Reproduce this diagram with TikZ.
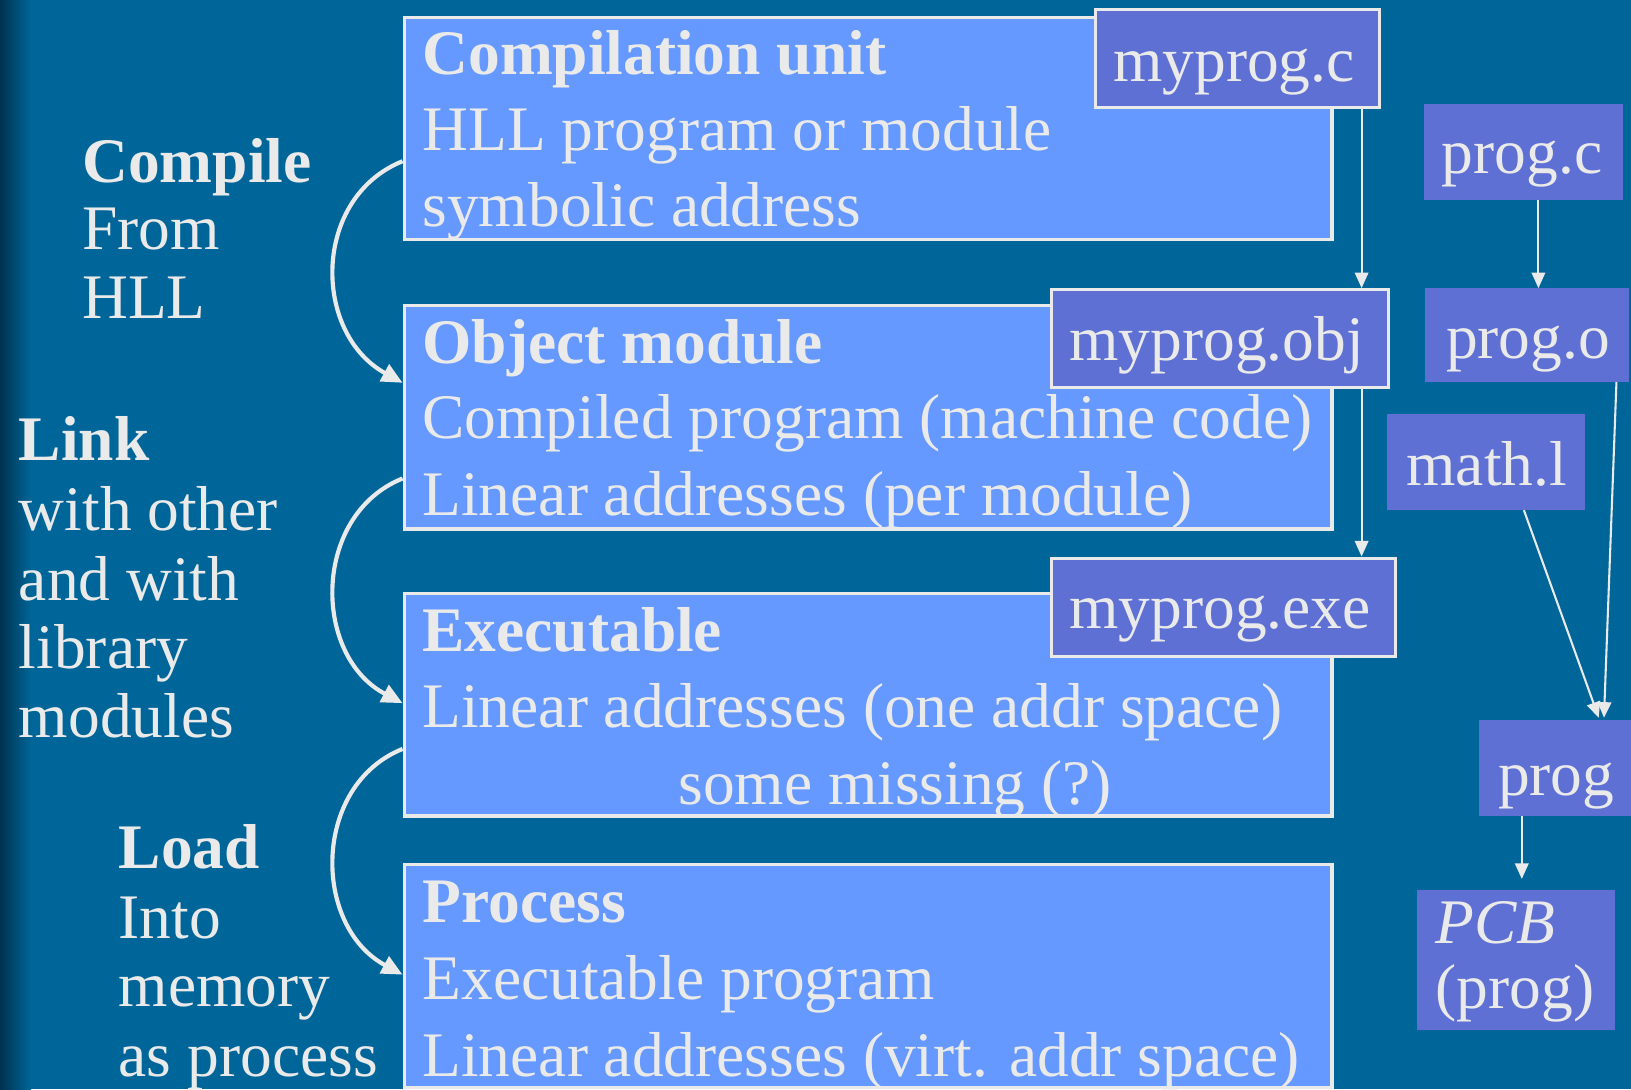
\documentclass[tikz,border=0pt]{standalone}
\usepackage{fontspec}
\setmainfont{Liberation Serif}
\usetikzlibrary{arrows.meta}
\definecolor{bg}{RGB}{0,102,153}
\definecolor{bgdark}{RGB}{0,50,80}
\definecolor{boxfill}{RGB}{102,153,255}
\definecolor{tagfill}{RGB}{95,112,212}
\definecolor{ink}{RGB}{234,234,234}

\begin{document}
\begin{tikzpicture}[x=1pt,y=-1pt,
  txt/.style={anchor=base west, inner sep=0pt, text=ink, font=\fontsize{61}{73}\selectfont},
  hd/.style={anchor=base west, inner sep=0pt, text=ink, font=\fontsize{61}{73}\selectfont\bfseries},
  itx/.style={anchor=base west, inner sep=0pt, text=ink, font=\fontsize{61}{73}\selectfont\itshape},
  stage/.style={anchor=north west, inner sep=0pt, draw=ink, line width=3pt, fill=boxfill,
                minimum width=892pt, minimum height=214pt},
  tag/.style={anchor=north west, inner sep=0pt, fill=tagfill},
  tagb/.style={tag, draw=ink, line width=3pt},
  flow/.style={draw=ink, line width=2pt, -{Triangle[length=15pt,width=13pt]}},
  steparrow/.style={draw=ink, line width=4pt, -{Triangle[length=20pt,width=18pt]}}
]
% background with a darker band on the left edge
\useasboundingbox (0,0) rectangle (1568,1047);
\fill[bg] (0,0) rectangle (1568,1047);
\shade[left color=bgdark, right color=bg] (0,0) rectangle (30,1047);

% the four stages
\node[stage] (cu) at (387,15) {};
\node[stage, minimum height=215pt] (om) at (387,292) {};
\node[stage] (ex) at (387,569) {};
\node[stage] (pr) at (387,830) {};

% stage texts
\node[hd]  (cu1) at (406,72)  {Compilation unit};
\node[txt] (cu2) at (406,145) {HLL program or module};
\node[txt] (cu3) at (406,218) {symbolic address};

\node[hd]  (om1) at (406,349) {Object module};
\node[txt] (om2) at (406,422) {Compiled program (machine code)};
\node[txt] (om3) at (406,496) {Linear addresses (per module)};

\node[hd]  (ex1) at (406,626) {Executable};
\node[txt] (ex2) at (406,699) {Linear addresses (one addr space)};
\node[txt] (ex3) at (652,773) {some missing (?)};

\node[hd]  (pr1) at (406,887) {Process};
\node[txt] (pr2) at (406,961) {Executable program};
\node[txt] (pr3) at (406,1035) {Linear addresses (virt. addr space)};

% file tags on the stages
\node[tagb, minimum width=273pt, minimum height=94pt] (mc) at (1052,8) {};
\node[txt] (mct) at (1070,78) {myprog.c};
\node[tagb, minimum width=324pt, minimum height=94pt] (mo) at (1009,277) {};
\node[txt] (mot) at (1028,347) {myprog.obj};
\node[tagb, minimum width=331pt, minimum height=95pt] (me) at (1009,535) {};
\node[txt] (met) at (1028,604) {myprog.exe};

% right-hand file chain
\node[tag, minimum width=191pt, minimum height=92pt] (pc) at (1369,100) {};
\node[txt] (pct) at (1386,167) {prog.c};
\node[tag, minimum width=196pt, minimum height=90pt] (po) at (1370,277) {};
\node[txt] (pot) at (1390,345) {prog.o};
\node[tag, minimum width=191pt, minimum height=92pt] (ml) at (1333,398) {};
\node[txt] (mlt) at (1352,467) {math.l};
\node[tag, minimum width=146pt, minimum height=92pt] (pg) at (1422,692) {};
\node[txt] (pgt) at (1440,765) {prog};
\node[tag, minimum width=190pt, minimum height=135pt] (pcb) at (1362,855) {};
\node[itx] (pcb1) at (1380,907) {PCB};
\node[txt] (pcb2) at (1380,970) {(prog)};

% left-hand step labels
\node[hd]  (l1) at (79,175) {Compile};
\node[txt] (l2) at (79,240) {From};
\node[txt] (l3) at (79,306) {HLL};

\node[hd]  (k1) at (18,443) {Link};
\node[txt] (k2) at (18,510) {with other};
\node[txt] (k3) at (18,577) {and with};
\node[txt] (k4) at (18,643) {library};
\node[txt] (k5) at (18,709) {modules};

\node[hd]  (d1) at (114,835) {Load};
\node[txt] (d2) at (114,902) {Into};
\node[txt] (d3) at (114,968) {memory};
\node[txt] (d4) at (114,1035) {as process};

% connector columns
\coordinate (ax) at (1309,0);
\coordinate (bx) at (1479,0);
\coordinate (cxa) at (1554,0);
\coordinate (cxb) at (1542,0);
\coordinate (dxa) at (1465,0);
\coordinate (dxb) at (1537,0);
\coordinate (ex0) at (1463,0);

\draw[flow] (mc.south -| ax) -- (mo.north -| ax);
\draw[flow] (mo.south -| ax) -- (me.north -| ax);
\draw[flow] (pc.south -| bx) -- (po.north -| bx);
\draw[flow] (po.south -| cxa) -- ([yshift=2pt]pg.north -| cxb);
\draw[flow] (ml.south -| dxa) -- ([yshift=2pt]pg.north -| dxb);
\draw[flow] (pg.south -| ex0) -- ([yshift=10pt]pcb.north -| ex0);

% curved step arrows between the stages
\draw[steparrow] ([yshift=-140pt]cu.north west) .. controls (300,190) and (300,320) .. ([yshift=-76pt]om.north west);
\draw[steparrow] ([yshift=-168pt]om.north west) .. controls (300,495) and (300,630) .. ([yshift=-107pt]ex.north west);
\draw[steparrow] ([yshift=-151pt]ex.north west) .. controls (300,755) and (300,890) .. ([yshift=-107pt]pr.north west);
\end{tikzpicture}
\end{document}
